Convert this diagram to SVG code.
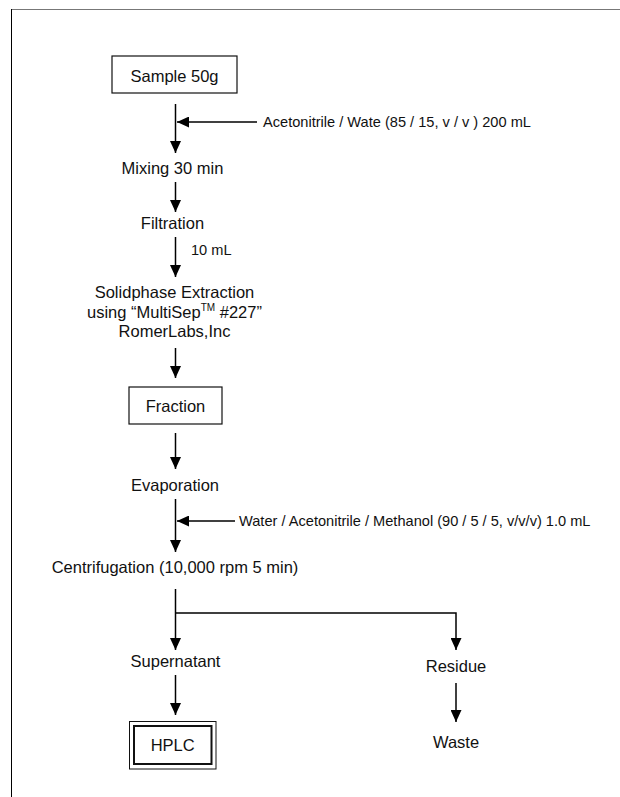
<svg xmlns="http://www.w3.org/2000/svg" width="620" height="797" viewBox="0 0 620 797">
<style>
.t{font-family:"Liberation Sans",Arial,sans-serif;font-size:16.5px;fill:#111;text-anchor:middle}
.a{font-family:"Liberation Sans",Arial,sans-serif;font-size:14.6px;fill:#111}
.box{fill:#fff;stroke:#111;stroke-width:1.2}
.ln{fill:none;stroke:#000;stroke-width:1.5}
</style>
<defs>
<marker id="ah" markerUnits="userSpaceOnUse" markerWidth="12" markerHeight="11" refX="12" refY="5.5" orient="auto">
<path d="M0,0 L12,5.5 L0,11 z" fill="#000"/>
</marker>
</defs>
<g id="frame">
<line x1="11" y1="9.5" x2="620" y2="9.5" stroke="#777" stroke-width="1"/>
<line x1="11.5" y1="9" x2="11.5" y2="797" stroke="#000" stroke-width="1"/>
</g>
<g id="connectors">
<line class="ln" x1="175.5" y1="104" x2="175.5" y2="153" marker-end="url(#ah)"/>
<line class="ln" x1="257" y1="122" x2="177" y2="122" marker-end="url(#ah)"/>
<line class="ln" x1="175.5" y1="182" x2="175.5" y2="212" marker-end="url(#ah)"/>
<line class="ln" x1="175.5" y1="237" x2="175.5" y2="277" marker-end="url(#ah)"/>
<line class="ln" x1="175.5" y1="348" x2="175.5" y2="378" marker-end="url(#ah)"/>
<line class="ln" x1="175.5" y1="433" x2="175.5" y2="469" marker-end="url(#ah)"/>
<line class="ln" x1="175.5" y1="499" x2="175.5" y2="552" marker-end="url(#ah)"/>
<line class="ln" x1="235" y1="521" x2="177" y2="521" marker-end="url(#ah)"/>
<line class="ln" x1="175.5" y1="589" x2="175.5" y2="650" marker-end="url(#ah)"/>
<polyline class="ln" points="175.5,613 456,613 456,650" marker-end="url(#ah)"/>
<line class="ln" x1="175.5" y1="675" x2="175.5" y2="715" marker-end="url(#ah)"/>
<line class="ln" x1="456" y1="683" x2="456" y2="722" marker-end="url(#ah)"/>
</g>
<g id="sample">
<rect class="box" x="112" y="56" width="125" height="37"/>
<text class="t" x="174.5" y="82">Sample 50g</text>
</g>
<g id="solvent1">
<text class="a" x="263" y="127">Acetonitrile / Wate (85 / 15, v / v ) 200 mL</text>
</g>
<g id="mixing">
<text class="t" x="172.5" y="174">Mixing 30 min</text>
</g>
<g id="filtration">
<text class="t" x="172.5" y="229">Filtration</text>
</g>
<g id="volume">
<text class="a" x="191" y="255">10 mL</text>
</g>
<g id="spe">
<text class="t" x="174.5" y="298">Solidphase Extraction</text>
<text class="t" x="174.5" y="318">using “MultiSep<tspan font-size="10" dy="-7">TM</tspan><tspan dy="7"> #227”</tspan></text>
<text class="t" x="174.5" y="337">RomerLabs,Inc</text>
</g>
<g id="fraction">
<rect class="box" x="129" y="387" width="93" height="37"/>
<text class="t" x="175.5" y="412">Fraction</text>
</g>
<g id="evaporation">
<text class="t" x="175" y="491">Evaporation</text>
</g>
<g id="solvent2">
<text class="a" x="239" y="526">Water / Acetonitrile / Methanol (90 / 5 / 5, v/v/v) 1.0 mL</text>
</g>
<g id="centrifugation">
<text class="t" x="175" y="573">Centrifugation (10,000 rpm 5 min)</text>
</g>
<g id="supernatant">
<text class="t" x="175.5" y="667">Supernatant</text>
</g>
<g id="residue">
<text class="t" x="456" y="672">Residue</text>
</g>
<g id="hplc">
<rect x="129.5" y="721.5" width="86.5" height="47.5" fill="#fff" stroke="#111" stroke-width="1"/>
<rect x="134" y="726" width="77.5" height="38" fill="none" stroke="#111" stroke-width="2"/>
<text class="t" x="172.7" y="751">HPLC</text>
</g>
<g id="waste">
<text class="t" x="456" y="748">Waste</text>
</g>
</svg>
